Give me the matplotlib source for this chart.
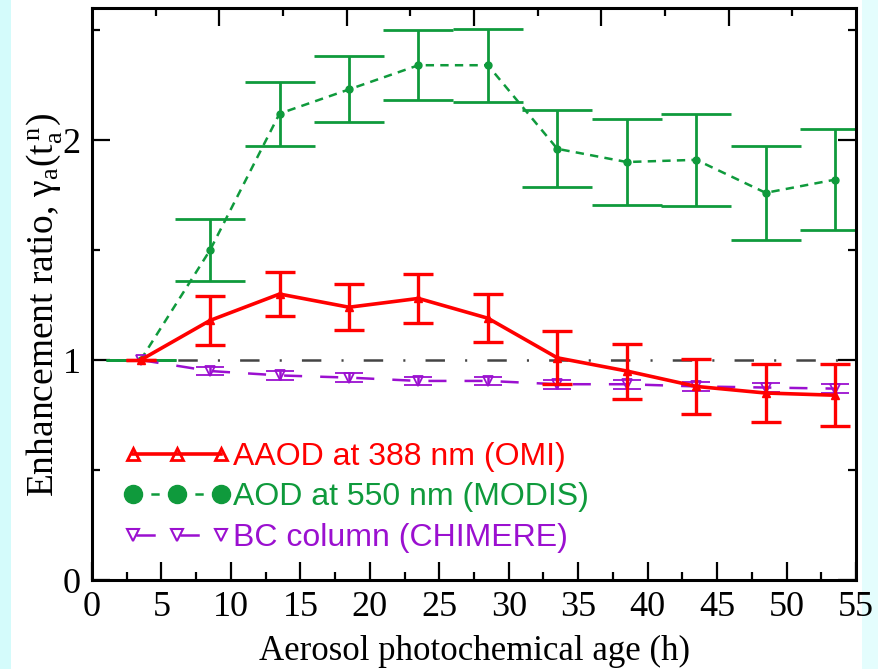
import matplotlib
matplotlib.use('Agg')
import matplotlib.pyplot as plt
from matplotlib.lines import Line2D
from matplotlib.patches import Rectangle

# Data
age = [3.5, 8.5, 13.5, 18.5, 23.5, 28.5, 33.5, 38.5, 43.5, 48.5, 53.5]
aaod = [1.00, 1.18, 1.30, 1.24, 1.28, 1.19, 1.01, 0.95, 0.88, 0.85, 0.84]
aaod_err = [0.0, 0.11, 0.10, 0.105, 0.11, 0.11, 0.12, 0.125, 0.125, 0.13, 0.14]
aod = [1.00, 1.50, 2.12, 2.23, 2.34, 2.34, 1.96, 1.90, 1.91, 1.76, 1.82]
aod_err = [0.0, 0.14, 0.145, 0.15, 0.16, 0.165, 0.175, 0.195, 0.21, 0.215, 0.23]
bc = [1.00, 0.95, 0.93, 0.92, 0.905, 0.905, 0.89, 0.89, 0.88, 0.875, 0.87]
bc_err = [0.0, 0.02, 0.02, 0.02, 0.02, 0.02, 0.02, 0.02, 0.02, 0.02, 0.02]
labels = ['AAOD at 388 nm (OMI)', 'AOD at 550 nm (MODIS)', 'BC column (CHIMERE)']

RED = '#ff0000'
GREEN = '#0f9a3c'
PURPLE = '#9b10d0'

plt.rcParams['font.family'] = 'Liberation Serif'
plt.rcParams['mathtext.fontset'] = 'custom'
plt.rcParams['mathtext.rm'] = 'Liberation Serif'
plt.rcParams['mathtext.it'] = 'Liberation Serif'
plt.rcParams['lines.scale_dashes'] = False

fig = plt.figure(figsize=(8.79, 6.69), dpi=100)
fig.patch.set_facecolor('white')
# light cyan side bands
fig.patches.append(Rectangle((0, 0), 0.013, 1, transform=fig.transFigure,
                             facecolor='#d4fbfb', edgecolor='none', zorder=-1))
fig.patches.append(Rectangle((0.981, 0), 0.019, 1, transform=fig.transFigure,
                             facecolor='#e4fdfd', edgecolor='none', zorder=-1))

ax = fig.add_axes([0.1047, 0.133, 0.8691, 0.855])

# reference line
ax.plot([1.7, 55], [1, 1], color='#444444', lw=1.8,
        linestyle=(0, (14, 14.5, 1.5, 14.5)), zorder=1)

ax.errorbar(age, aod, yerr=aod_err, color=GREEN, lw=1.8, linestyle=(0, (6, 4.5)),
            marker='o', ms=5, capsize=25, capthick=2, elinewidth=2, zorder=2)
ax.errorbar(age, bc, yerr=bc_err, color=PURPLE, lw=1.8, linestyle=(0, (13, 13)),
            marker='v', ms=7, mfc='none', mew=1.3, capsize=10, capthick=2,
            elinewidth=1.8, zorder=3)
ax.errorbar(age, aaod, yerr=aaod_err, color=RED, lw=2.6, marker='^', ms=6,
            capsize=11, capthick=2.4, elinewidth=2.4, zorder=4)

ax.set_xlim(0, 55)
ax.set_ylim(0, 2.6)
ax.set_xticks(range(0, 56, 5))
ax.set_xticks([x + 2.5 for x in range(0, 55, 5)], minor=True)
ax.set_yticks([0, 1, 2])
ax.set_yticks([0.5, 1.5, 2.5], minor=True)
ax.tick_params(which='both', direction='in', width=1.6, right=True,
               labelsize=26, pad=8)
ax.tick_params(which='major', length=13)
ax.tick_params(which='minor', length=6)
for s in ax.spines.values():
    s.set_linewidth(2.2)

# top axis with its own tick spacing
top = ax.twiny()
top.set_xlim(0, 60)
top.set_xticks(range(10, 60, 10))
top.set_xticks(range(5, 60, 10), minor=True)
top.tick_params(which='both', direction='in', width=1.6, labeltop=False)
top.tick_params(which='major', length=13)
top.tick_params(which='minor', length=6)

ax.set_xlabel('Aerosol photochemical age (h)', fontsize=25, labelpad=8)
ax.set_ylabel(r'Enhancement ratio, γ$_\mathrm{a}$(t$_\mathrm{a}^{\,\mathrm{n}}$)',
              fontsize=27)
ax.yaxis.set_label_coords(-0.037, 0.48)

handles = [
    Line2D([], [], color=RED, lw=2.6, marker='^', ms=8, mfc='none', mew=2),
    Line2D([], [], color=GREEN, lw=1.8, linestyle=(18.85, (6, 25.7)),
           marker='o', ms=13),
    Line2D([], [], color=PURPLE, lw=1.8, linestyle=(29.7, (14, 17.7)),
           marker='v', ms=8, mfc='none', mew=1.5),
]
leg = ax.legend(handles, labels, loc='lower left', bbox_to_anchor=(0.024, 0.025),
                frameon=False, numpoints=3, handlelength=3.36, handletextpad=0.08,
                labelspacing=0.33, borderaxespad=0,
                prop={'family': 'Liberation Sans', 'size': 23})
for t, c in zip(leg.get_texts(), [RED, GREEN, PURPLE]):
    t.set_color(c)

fig.savefig('out.png', dpi=100)
